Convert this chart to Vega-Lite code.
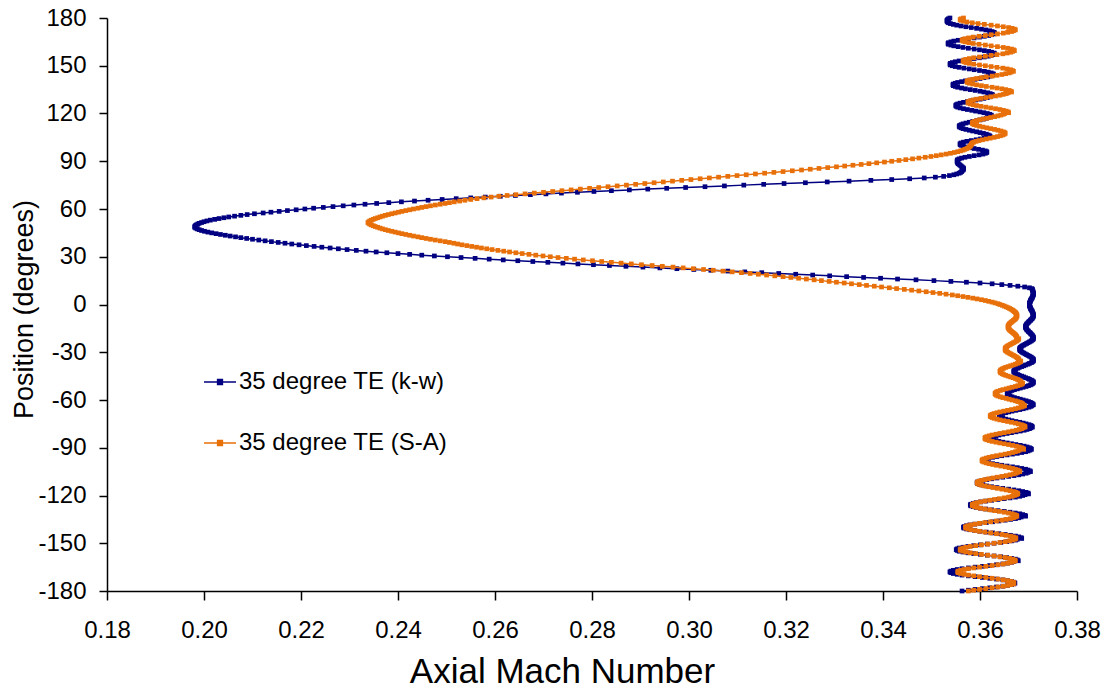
{
"$schema": "https://vega.github.io/schema/vega-lite/v6.json",
"width": 970,
"height": 573,
"autosize": {"type": "none"},
"padding": {"left": 107, "top": 18, "right": 33, "bottom": 97},
"background": "white",
"config": {
  "view": {"stroke": null},
  "font": "Liberation Sans",
  "axis": {"grid": false, "domainColor": "#000000", "domainWidth": 1.5, "tickColor": "#000000", "tickWidth": 1.5, "labelColor": "#000000", "titleColor": "#000000", "labelFont": "Liberation Sans", "titleFont": "Liberation Sans", "labelFontSize": 24, "titleFontWeight": "normal", "labelFlush": false, "labelOverlap": false}
},
"datasets": {
"kw": [
{"p":-180,"m":0.3563},{"p":-179.5,"m":0.3576},{"p":-179,"m":0.3590},{"p":-178.5,"m":0.3605},{"p":-178,"m":0.3620},{"p":-177.5,"m":0.3634},{"p":-177,"m":0.3647},{"p":-176.5,"m":0.3657},{"p":-176,"m":0.3665},{"p":-175.5,"m":0.3670},
{"p":-175,"m":0.3672},{"p":-174.5,"m":0.3670},{"p":-174,"m":0.3665},{"p":-173.5,"m":0.3657},{"p":-173,"m":0.3647},{"p":-172.5,"m":0.3634},{"p":-172,"m":0.3620},{"p":-171.5,"m":0.3605},{"p":-171,"m":0.3590},{"p":-170.5,"m":0.3576},{"p":-170,"m":0.3563},{"p":-169.5,"m":0.3553},{"p":-169,"m":0.3545},{"p":-168.5,"m":0.3540},{"p":-168,"m":0.3538},{"p":-167.5,"m":0.3540},{"p":-167,"m":0.3545},{"p":-166.5,"m":0.3553},{"p":-166,"m":0.3563},{"p":-165.5,"m":0.3576},{"p":-165,"m":0.3590},{"p":-164.5,"m":0.3605},{"p":-164,"m":0.3620},{"p":-163.5,"m":0.3634},{"p":-163,"m":0.3647},{"p":-162.5,"m":0.3657},{"p":-162,"m":0.3665},{"p":-161.5,"m":0.3670},
{"p":-161,"m":0.3679},{"p":-160.5,"m":0.3677},{"p":-160,"m":0.3673},{"p":-159.5,"m":0.3665},{"p":-159,"m":0.3655},{"p":-158.5,"m":0.3643},{"p":-158,"m":0.3629},{"p":-157.5,"m":0.3615},{"p":-157,"m":0.3601},{"p":-156.5,"m":0.3587},{"p":-156,"m":0.3575},{"p":-155.5,"m":0.3565},{"p":-155,"m":0.3557},{"p":-154.5,"m":0.3553},{"p":-154,"m":0.3551},{"p":-153.5,"m":0.3553},{"p":-153,"m":0.3557},{"p":-152.5,"m":0.3565},{"p":-152,"m":0.3575},{"p":-151.5,"m":0.3587},{"p":-151,"m":0.3601},{"p":-150.5,"m":0.3615},{"p":-150,"m":0.3629},{"p":-149.5,"m":0.3643},{"p":-149,"m":0.3655},{"p":-148.5,"m":0.3665},{"p":-148,"m":0.3673},{"p":-147.5,"m":0.3677},
{"p":-147,"m":0.3686},{"p":-146.5,"m":0.3685},{"p":-146,"m":0.3680},{"p":-145.5,"m":0.3673},{"p":-145,"m":0.3663},{"p":-144.5,"m":0.3652},{"p":-144,"m":0.3639},{"p":-143.5,"m":0.3626},{"p":-143,"m":0.3613},{"p":-142.5,"m":0.3600},{"p":-142,"m":0.3589},{"p":-141.5,"m":0.3579},{"p":-141,"m":0.3572},{"p":-140.5,"m":0.3567},{"p":-140,"m":0.3566},{"p":-139.5,"m":0.3567},{"p":-139,"m":0.3572},{"p":-138.5,"m":0.3579},{"p":-138,"m":0.3589},{"p":-137.5,"m":0.3600},{"p":-137,"m":0.3613},{"p":-136.5,"m":0.3626},{"p":-136,"m":0.3639},{"p":-135.5,"m":0.3652},{"p":-135,"m":0.3663},{"p":-134.5,"m":0.3673},{"p":-134,"m":0.3680},{"p":-133.5,"m":0.3685},
{"p":-133,"m":0.3694},{"p":-132.5,"m":0.3693},{"p":-132,"m":0.3688},{"p":-131.5,"m":0.3682},{"p":-131,"m":0.3673},{"p":-130.5,"m":0.3662},{"p":-130,"m":0.3650},{"p":-129.5,"m":0.3637},{"p":-129,"m":0.3624},{"p":-128.5,"m":0.3612},{"p":-128,"m":0.3601},{"p":-127.5,"m":0.3592},{"p":-127,"m":0.3586},{"p":-126.5,"m":0.3581},{"p":-126,"m":0.3580},{"p":-125.5,"m":0.3581},{"p":-125,"m":0.3586},{"p":-124.5,"m":0.3592},{"p":-124,"m":0.3601},{"p":-123.5,"m":0.3612},{"p":-123,"m":0.3624},{"p":-122.5,"m":0.3637},{"p":-122,"m":0.3650},{"p":-121.5,"m":0.3662},{"p":-121,"m":0.3673},{"p":-120.5,"m":0.3682},{"p":-120,"m":0.3688},{"p":-119.5,"m":0.3693},
{"p":-119,"m":0.3700},{"p":-118.5,"m":0.3699},{"p":-118,"m":0.3695},{"p":-117.5,"m":0.3688},{"p":-117,"m":0.3680},{"p":-116.5,"m":0.3670},{"p":-116,"m":0.3659},{"p":-115.5,"m":0.3647},{"p":-115,"m":0.3635},{"p":-114.5,"m":0.3624},{"p":-114,"m":0.3614},{"p":-113.5,"m":0.3606},{"p":-113,"m":0.3599},{"p":-112.5,"m":0.3595},{"p":-112,"m":0.3594},{"p":-111.5,"m":0.3595},{"p":-111,"m":0.3599},{"p":-110.5,"m":0.3606},{"p":-110,"m":0.3614},{"p":-109.5,"m":0.3624},{"p":-109,"m":0.3635},{"p":-108.5,"m":0.3647},{"p":-108,"m":0.3659},{"p":-107.5,"m":0.3670},{"p":-107,"m":0.3680},{"p":-106.5,"m":0.3688},{"p":-106,"m":0.3695},{"p":-105.5,"m":0.3699},
{"p":-105,"m":0.3704},{"p":-104.5,"m":0.3703},{"p":-104,"m":0.3699},{"p":-103.5,"m":0.3694},{"p":-103,"m":0.3686},{"p":-102.5,"m":0.3677},{"p":-102,"m":0.3667},{"p":-101.5,"m":0.3656},{"p":-101,"m":0.3645},{"p":-100.5,"m":0.3635},{"p":-100,"m":0.3626},{"p":-99.5,"m":0.3618},{"p":-99,"m":0.3613},{"p":-98.5,"m":0.3609},{"p":-98,"m":0.3608},{"p":-97.5,"m":0.3609},{"p":-97,"m":0.3613},{"p":-96.5,"m":0.3618},{"p":-96,"m":0.3626},{"p":-95.5,"m":0.3635},{"p":-95,"m":0.3645},{"p":-94.5,"m":0.3656},{"p":-94,"m":0.3667},{"p":-93.5,"m":0.3677},{"p":-93,"m":0.3686},{"p":-92.5,"m":0.3694},{"p":-92,"m":0.3699},{"p":-91.5,"m":0.3703},
{"p":-91,"m":0.3706},{"p":-90.5,"m":0.3705},{"p":-90,"m":0.3702},{"p":-89.5,"m":0.3697},{"p":-89,"m":0.3691},{"p":-88.5,"m":0.3683},{"p":-88,"m":0.3674},{"p":-87.5,"m":0.3665},{"p":-87,"m":0.3656},{"p":-86.5,"m":0.3647},{"p":-86,"m":0.3639},{"p":-85.5,"m":0.3633},{"p":-85,"m":0.3628},{"p":-84.5,"m":0.3625},{"p":-84,"m":0.3624},{"p":-83.5,"m":0.3625},{"p":-83,"m":0.3628},{"p":-82.5,"m":0.3633},{"p":-82,"m":0.3639},{"p":-81.5,"m":0.3647},{"p":-81,"m":0.3656},{"p":-80.5,"m":0.3665},{"p":-80,"m":0.3674},{"p":-79.5,"m":0.3683},{"p":-79,"m":0.3691},{"p":-78.5,"m":0.3697},{"p":-78,"m":0.3702},{"p":-77.5,"m":0.3705},
{"p":-77,"m":0.3708},{"p":-76.5,"m":0.3707},{"p":-76,"m":0.3705},{"p":-75.5,"m":0.3701},{"p":-75,"m":0.3695},{"p":-74.5,"m":0.3689},{"p":-74,"m":0.3682},{"p":-73.5,"m":0.3674},{"p":-73,"m":0.3666},{"p":-72.5,"m":0.3659},{"p":-72,"m":0.3653},{"p":-71.5,"m":0.3647},{"p":-71,"m":0.3643},{"p":-70.5,"m":0.3641},{"p":-70,"m":0.3640},{"p":-69.5,"m":0.3641},{"p":-69,"m":0.3643},{"p":-68.5,"m":0.3647},{"p":-68,"m":0.3653},{"p":-67.5,"m":0.3659},{"p":-67,"m":0.3666},{"p":-66.5,"m":0.3674},{"p":-66,"m":0.3682},{"p":-65.5,"m":0.3689},{"p":-65,"m":0.3695},{"p":-64.5,"m":0.3701},{"p":-64,"m":0.3705},{"p":-63.5,"m":0.3707},
{"p":-63,"m":0.3710},{"p":-62.5,"m":0.3709},{"p":-62,"m":0.3707},{"p":-61.5,"m":0.3704},{"p":-61,"m":0.3700},{"p":-60.5,"m":0.3695},{"p":-60,"m":0.3689},{"p":-59.5,"m":0.3683},{"p":-59,"m":0.3677},{"p":-58.5,"m":0.3671},{"p":-58,"m":0.3666},{"p":-57.5,"m":0.3662},{"p":-57,"m":0.3659},{"p":-56.5,"m":0.3657},{"p":-56,"m":0.3656},{"p":-55.5,"m":0.3657},{"p":-55,"m":0.3659},{"p":-54.5,"m":0.3662},{"p":-54,"m":0.3666},{"p":-53.5,"m":0.3671},{"p":-53,"m":0.3677},{"p":-52.5,"m":0.3683},{"p":-52,"m":0.3689},{"p":-51.5,"m":0.3695},{"p":-51,"m":0.3700},{"p":-50.5,"m":0.3704},{"p":-50,"m":0.3707},{"p":-49.5,"m":0.3709},
{"p":-49,"m":0.3710},{"p":-48.5,"m":0.3710},{"p":-48,"m":0.3708},{"p":-47.5,"m":0.3706},{"p":-47,"m":0.3702},{"p":-46.5,"m":0.3699},{"p":-46,"m":0.3694},{"p":-45.5,"m":0.3690},{"p":-45,"m":0.3686},{"p":-44.5,"m":0.3681},{"p":-44,"m":0.3678},{"p":-43.5,"m":0.3674},{"p":-43,"m":0.3672},{"p":-42.5,"m":0.3670},{"p":-42,"m":0.3670},{"p":-41.5,"m":0.3670},{"p":-41,"m":0.3672},{"p":-40.5,"m":0.3674},{"p":-40,"m":0.3678},{"p":-39.5,"m":0.3681},{"p":-39,"m":0.3686},{"p":-38.5,"m":0.3690},{"p":-38,"m":0.3694},{"p":-37.5,"m":0.3699},{"p":-37,"m":0.3702},{"p":-36.5,"m":0.3706},{"p":-36,"m":0.3708},{"p":-35.5,"m":0.3710},
{"p":-35,"m":0.3710},{"p":-34.5,"m":0.3710},{"p":-34,"m":0.3709},{"p":-33.5,"m":0.3707},{"p":-33,"m":0.3705},{"p":-32.5,"m":0.3702},{"p":-32,"m":0.3699},{"p":-31.5,"m":0.3696},{"p":-31,"m":0.3693},{"p":-30.5,"m":0.3690},{"p":-30,"m":0.3687},{"p":-29.5,"m":0.3685},{"p":-29,"m":0.3683},{"p":-28.5,"m":0.3682},{"p":-28,"m":0.3682},{"p":-27.5,"m":0.3682},{"p":-27,"m":0.3683},{"p":-26.5,"m":0.3685},{"p":-26,"m":0.3687},{"p":-25.5,"m":0.3690},{"p":-25,"m":0.3693},{"p":-24.5,"m":0.3696},{"p":-24,"m":0.3699},{"p":-23.5,"m":0.3702},{"p":-23,"m":0.3705},{"p":-22.5,"m":0.3707},{"p":-22,"m":0.3709},{"p":-21.5,"m":0.3710},
{"p":-21,"m":0.3710},{"p":-20.5,"m":0.3710},{"p":-20,"m":0.3709},{"p":-19.5,"m":0.3708},{"p":-19,"m":0.3707},{"p":-18.5,"m":0.3705},{"p":-18,"m":0.3704},{"p":-17.5,"m":0.3702},{"p":-17,"m":0.3700},{"p":-16.5,"m":0.3699},{"p":-16,"m":0.3697},{"p":-15.5,"m":0.3696},{"p":-15,"m":0.3695},{"p":-14.5,"m":0.3694},{"p":-14,"m":0.3694},{"p":-13.5,"m":0.3694},{"p":-13,"m":0.3695},{"p":-12.5,"m":0.3696},{"p":-12,"m":0.3697},{"p":-11.5,"m":0.3699},{"p":-11,"m":0.3700},{"p":-10.5,"m":0.3702},{"p":-10,"m":0.3704},{"p":-9.5,"m":0.3705},{"p":-9,"m":0.3707},{"p":-8.5,"m":0.3708},{"p":-8,"m":0.3709},{"p":-7.5,"m":0.3710},
{"p":-7,"m":0.3710},{"p":-6.5,"m":0.3710},{"p":-6,"m":0.3710},{"p":-5.5,"m":0.3709},{"p":-5,"m":0.3708},{"p":-4.5,"m":0.3708},{"p":-4,"m":0.3707},{"p":-3.5,"m":0.3706},{"p":-3,"m":0.3705},{"p":-2.5,"m":0.3704},{"p":-2,"m":0.3704},{"p":-1.5,"m":0.3703},{"p":-1,"m":0.3702},{"p":-0.5,"m":0.3702},{"p":0,"m":0.3702},{"p":0.5,"m":0.3702},{"p":1,"m":0.3702},{"p":1.5,"m":0.3703},{"p":2,"m":0.3704},{"p":2.5,"m":0.3704},{"p":3,"m":0.3705},{"p":3.5,"m":0.3706},{"p":4,"m":0.3707},{"p":4.5,"m":0.3708},{"p":5,"m":0.3708},{"p":5.5,"m":0.3709},{"p":6,"m":0.3710},{"p":6.5,"m":0.3710},
{"p":7,"m":0.3710},{"p":7.5,"m":0.3710},{"p":8,"m":0.3709},{"p":8.5,"m":0.3709},{"p":9,"m":0.3708},{"p":9.5,"m":0.3708},{"p":10,"m":0.3707},
{"p":10.5,"m":0.3702},{"p":11,"m":0.3692},{"p":11.5,"m":0.3678},{"p":12,"m":0.3662},{"p":12.5,"m":0.3645},{"p":13,"m":0.3625},{"p":13.5,"m":0.3600},{"p":14,"m":0.3572},{"p":14.5,"m":0.3540},{"p":15,"m":0.3505},{"p":15.5,"m":0.3468},{"p":16,"m":0.3430},{"p":16.5,"m":0.3395},{"p":17,"m":0.3360},{"p":17.5,"m":0.3325},{"p":18,"m":0.3290},{"p":18.5,"m":0.3255},{"p":19,"m":0.3220},{"p":19.5,"m":0.3185},{"p":20,"m":0.3150},{"p":20.5,"m":0.3115},{"p":21,"m":0.3080},{"p":21.5,"m":0.3045},{"p":22,"m":0.3010},{"p":22.5,"m":0.2975},{"p":23,"m":0.2940},{"p":23.5,"m":0.2905},{"p":24,"m":0.2870},{"p":24.5,"m":0.2836},{"p":25,"m":0.2803},
{"p":25.5,"m":0.2771},{"p":26,"m":0.2740},{"p":26.5,"m":0.2709},{"p":27,"m":0.2678},{"p":27.5,"m":0.2647},{"p":28,"m":0.2617},{"p":28.5,"m":0.2588},{"p":29,"m":0.2559},{"p":29.5,"m":0.2530},{"p":30,"m":0.2502},{"p":30.5,"m":0.2475},{"p":31,"m":0.2449},{"p":31.5,"m":0.2424},{"p":32,"m":0.2400},{"p":32.5,"m":0.2377},{"p":33,"m":0.2355},{"p":33.5,"m":0.2334},{"p":34,"m":0.2314},{"p":34.5,"m":0.2295},{"p":35,"m":0.2277},{"p":35.5,"m":0.2260},{"p":36,"m":0.2243},{"p":36.5,"m":0.2227},{"p":37,"m":0.2211},{"p":37.5,"m":0.2196},{"p":38,"m":0.2181},{"p":38.5,"m":0.2167},{"p":39,"m":0.2153},{"p":39.5,"m":0.2139},{"p":40,"m":0.2126},
{"p":40.5,"m":0.2113},{"p":41,"m":0.2100},{"p":41.5,"m":0.2088},{"p":42,"m":0.2076},{"p":42.5,"m":0.2065},{"p":43,"m":0.2054},{"p":43.5,"m":0.2044},{"p":44,"m":0.2034},{"p":44.5,"m":0.2025},{"p":45,"m":0.2016},{"p":45.5,"m":0.2008},{"p":46,"m":0.2001},{"p":46.5,"m":0.1995},{"p":47,"m":0.1990},{"p":47.5,"m":0.1986},{"p":48,"m":0.1983},{"p":48.5,"m":0.1981},{"p":49,"m":0.1981},{"p":49.5,"m":0.1982},{"p":50,"m":0.1984},{"p":50.5,"m":0.1987},{"p":51,"m":0.1990},{"p":51.5,"m":0.1995},{"p":52,"m":0.2000},{"p":52.5,"m":0.2006},{"p":53,"m":0.2013},{"p":53.5,"m":0.2022},{"p":54,"m":0.2031},{"p":54.5,"m":0.2041},{"p":55,"m":0.2051},
{"p":55.5,"m":0.2063},{"p":56,"m":0.2076},{"p":56.5,"m":0.2089},{"p":57,"m":0.2104},{"p":57.5,"m":0.2122},{"p":58,"m":0.2138},{"p":58.5,"m":0.2155},{"p":59,"m":0.2172},{"p":59.5,"m":0.2190},{"p":60,"m":0.2208},{"p":60.5,"m":0.2226},{"p":61,"m":0.2246},{"p":61.5,"m":0.2266},{"p":62,"m":0.2287},{"p":62.5,"m":0.2309},{"p":63,"m":0.2332},{"p":63.5,"m":0.2356},{"p":64,"m":0.2381},{"p":64.5,"m":0.2407},{"p":65,"m":0.2434},{"p":65.5,"m":0.2462},{"p":66,"m":0.2491},{"p":66.5,"m":0.2520},{"p":67,"m":0.2550},{"p":67.5,"m":0.2580},{"p":68,"m":0.2611},{"p":68.5,"m":0.2642},{"p":69,"m":0.2673},{"p":69.5,"m":0.2705},{"p":70,"m":0.2737},
{"p":70.5,"m":0.2770},{"p":71,"m":0.2804},{"p":71.5,"m":0.2840},{"p":72,"m":0.2877},{"p":72.5,"m":0.2915},{"p":73,"m":0.2954},{"p":73.5,"m":0.2993},{"p":74,"m":0.3033},{"p":74.5,"m":0.3073},{"p":75,"m":0.3113},{"p":75.5,"m":0.3154},{"p":76,"m":0.3196},{"p":76.5,"m":0.3240},{"p":77,"m":0.3285},{"p":77.5,"m":0.3330},{"p":78,"m":0.3375},{"p":78.5,"m":0.3418},{"p":79,"m":0.3455},{"p":79.5,"m":0.3485},{"p":80,"m":0.3508},{"p":80.5,"m":0.3525},{"p":81,"m":0.3537},{"p":81.5,"m":0.3546},{"p":82,"m":0.3552},{"p":82.5,"m":0.3557},{"p":83,"m":0.3560},{"p":83.5,"m":0.3562},{"p":84,"m":0.3563},
{"p":84.5,"m":0.3565},{"p":85,"m":0.3566},{"p":85.5,"m":0.3566},{"p":86,"m":0.3565},{"p":86.5,"m":0.3563},{"p":87,"m":0.3561},{"p":87.5,"m":0.3559},{"p":88,"m":0.3557},{"p":88.5,"m":0.3555},{"p":89,"m":0.3554},{"p":89.5,"m":0.3553},{"p":90,"m":0.3553},{"p":90.5,"m":0.3553},{"p":91,"m":0.3554},{"p":91.5,"m":0.3557},{"p":92,"m":0.3562},{"p":92.5,"m":0.3569},{"p":93,"m":0.3578},{"p":93.5,"m":0.3588},{"p":94,"m":0.3598},{"p":94.5,"m":0.3606},{"p":95,"m":0.3611},{"p":95.5,"m":0.3614},{"p":96,"m":0.3614},{"p":96.5,"m":0.3611},{"p":97,"m":0.3605},{"p":97.5,"m":0.3597},{"p":98,"m":0.3588},{"p":98.5,"m":0.3579},{"p":99,"m":0.3571},{"p":99.5,"m":0.3565},{"p":100,"m":0.3561},{"p":100.5,"m":0.3559},{"p":101,"m":0.3559},
{"p":101.5,"m":0.3561},{"p":102,"m":0.3566},{"p":102.5,"m":0.3573},{"p":103,"m":0.3582},{"p":103.5,"m":0.3592},{"p":104,"m":0.3601},{"p":104.5,"m":0.3609},{"p":105,"m":0.3616},
{"p":105.5,"m":0.3621},{"p":106,"m":0.3620},{"p":106.5,"m":0.3617},{"p":107,"m":0.3613},{"p":107.5,"m":0.3607},{"p":108,"m":0.3600},{"p":108.5,"m":0.3593},{"p":109,"m":0.3585},{"p":109.5,"m":0.3578},{"p":110,"m":0.3571},{"p":110.5,"m":0.3565},{"p":111,"m":0.3561},{"p":111.5,"m":0.3558},{"p":112,"m":0.3557},{"p":112.5,"m":0.3558},{"p":113,"m":0.3561},{"p":113.5,"m":0.3565},{"p":114,"m":0.3571},{"p":114.5,"m":0.3578},{"p":115,"m":0.3585},{"p":115.5,"m":0.3593},{"p":116,"m":0.3600},{"p":116.5,"m":0.3607},{"p":117,"m":0.3613},{"p":117.5,"m":0.3617},{"p":118,"m":0.3620},
{"p":118.5,"m":0.3624},{"p":119,"m":0.3623},{"p":119.5,"m":0.3620},{"p":120,"m":0.3615},{"p":120.5,"m":0.3608},{"p":121,"m":0.3600},{"p":121.5,"m":0.3591},{"p":122,"m":0.3583},{"p":122.5,"m":0.3574},{"p":123,"m":0.3566},{"p":123.5,"m":0.3559},{"p":124,"m":0.3554},{"p":124.5,"m":0.3551},{"p":125,"m":0.3550},{"p":125.5,"m":0.3551},{"p":126,"m":0.3554},{"p":126.5,"m":0.3559},{"p":127,"m":0.3566},{"p":127.5,"m":0.3574},{"p":128,"m":0.3583},{"p":128.5,"m":0.3591},{"p":129,"m":0.3600},{"p":129.5,"m":0.3608},{"p":130,"m":0.3615},{"p":130.5,"m":0.3620},{"p":131,"m":0.3623},
{"p":131.5,"m":0.3626},{"p":132,"m":0.3625},{"p":132.5,"m":0.3621},{"p":133,"m":0.3616},{"p":133.5,"m":0.3608},{"p":134,"m":0.3600},{"p":134.5,"m":0.3590},{"p":135,"m":0.3580},{"p":135.5,"m":0.3570},{"p":136,"m":0.3562},{"p":136.5,"m":0.3554},{"p":137,"m":0.3549},{"p":137.5,"m":0.3545},{"p":138,"m":0.3544},{"p":138.5,"m":0.3545},{"p":139,"m":0.3549},{"p":139.5,"m":0.3554},{"p":140,"m":0.3562},{"p":140.5,"m":0.3570},{"p":141,"m":0.3580},{"p":141.5,"m":0.3590},{"p":142,"m":0.3600},{"p":142.5,"m":0.3608},{"p":143,"m":0.3616},{"p":143.5,"m":0.3621},{"p":144,"m":0.3625},
{"p":144.5,"m":0.3628},{"p":145,"m":0.3627},{"p":145.5,"m":0.3623},{"p":146,"m":0.3617},{"p":146.5,"m":0.3609},{"p":147,"m":0.3599},{"p":147.5,"m":0.3588},{"p":148,"m":0.3578},{"p":148.5,"m":0.3567},{"p":149,"m":0.3557},{"p":149.5,"m":0.3549},{"p":150,"m":0.3543},{"p":150.5,"m":0.3539},{"p":151,"m":0.3538},{"p":151.5,"m":0.3539},{"p":152,"m":0.3543},{"p":152.5,"m":0.3549},{"p":153,"m":0.3557},{"p":153.5,"m":0.3567},{"p":154,"m":0.3578},{"p":154.5,"m":0.3588},{"p":155,"m":0.3599},{"p":155.5,"m":0.3609},{"p":156,"m":0.3617},{"p":156.5,"m":0.3623},{"p":157,"m":0.3627},
{"p":157.5,"m":0.3630},{"p":158,"m":0.3629},{"p":158.5,"m":0.3624},{"p":159,"m":0.3618},{"p":159.5,"m":0.3609},{"p":160,"m":0.3599},{"p":160.5,"m":0.3588},{"p":161,"m":0.3576},{"p":161.5,"m":0.3565},{"p":162,"m":0.3555},{"p":162.5,"m":0.3546},{"p":163,"m":0.3540},{"p":163.5,"m":0.3535},{"p":164,"m":0.3534},{"p":164.5,"m":0.3535},{"p":165,"m":0.3540},{"p":165.5,"m":0.3546},{"p":166,"m":0.3555},{"p":166.5,"m":0.3565},{"p":167,"m":0.3576},{"p":167.5,"m":0.3588},{"p":168,"m":0.3599},{"p":168.5,"m":0.3609},{"p":169,"m":0.3618},{"p":169.5,"m":0.3624},{"p":170,"m":0.3629},
{"p":170.5,"m":0.3630},{"p":171,"m":0.3629},{"p":171.5,"m":0.3625},{"p":172,"m":0.3620},{"p":172.5,"m":0.3612},{"p":173,"m":0.3603},{"p":173.5,"m":0.3593},{"p":174,"m":0.3582},{"p":174.5,"m":0.3571},{"p":175,"m":0.3561},{"p":175.5,"m":0.3552},{"p":176,"m":0.3545},{"p":176.5,"m":0.3539},{"p":177,"m":0.3535},{"p":177.5,"m":0.3533},{"p":178,"m":0.3532},{"p":178.5,"m":0.3532},{"p":179,"m":0.3533},{"p":179.5,"m":0.3535},{"p":180,"m":0.3538}
],
"sa": [
{"p":-180,"m":0.3576},{"p":-179.5,"m":0.3587},{"p":-179,"m":0.3599},{"p":-178.5,"m":0.3612},{"p":-178,"m":0.3625},{"p":-177.5,"m":0.3637},{"p":-177,"m":0.3648},{"p":-176.5,"m":0.3657},{"p":-176,"m":0.3664},{"p":-175.5,"m":0.3669},
{"p":-175,"m":0.3670},{"p":-174.5,"m":0.3669},{"p":-174,"m":0.3664},{"p":-173.5,"m":0.3657},{"p":-173,"m":0.3648},{"p":-172.5,"m":0.3637},{"p":-172,"m":0.3625},{"p":-171.5,"m":0.3612},{"p":-171,"m":0.3599},{"p":-170.5,"m":0.3587},{"p":-170,"m":0.3576},{"p":-169.5,"m":0.3567},{"p":-169,"m":0.3560},{"p":-168.5,"m":0.3555},{"p":-168,"m":0.3554},{"p":-167.5,"m":0.3555},{"p":-167,"m":0.3560},{"p":-166.5,"m":0.3567},{"p":-166,"m":0.3576},{"p":-165.5,"m":0.3587},{"p":-165,"m":0.3599},{"p":-164.5,"m":0.3612},{"p":-164,"m":0.3625},{"p":-163.5,"m":0.3637},{"p":-163,"m":0.3648},{"p":-162.5,"m":0.3657},{"p":-162,"m":0.3664},{"p":-161.5,"m":0.3669},
{"p":-161,"m":0.3673},{"p":-160.5,"m":0.3672},{"p":-160,"m":0.3667},{"p":-159.5,"m":0.3661},{"p":-159,"m":0.3652},{"p":-158.5,"m":0.3641},{"p":-158,"m":0.3629},{"p":-157.5,"m":0.3616},{"p":-157,"m":0.3603},{"p":-156.5,"m":0.3591},{"p":-156,"m":0.3580},{"p":-155.5,"m":0.3571},{"p":-155,"m":0.3565},{"p":-154.5,"m":0.3560},{"p":-154,"m":0.3559},{"p":-153.5,"m":0.3560},{"p":-153,"m":0.3565},{"p":-152.5,"m":0.3571},{"p":-152,"m":0.3580},{"p":-151.5,"m":0.3591},{"p":-151,"m":0.3603},{"p":-150.5,"m":0.3616},{"p":-150,"m":0.3629},{"p":-149.5,"m":0.3641},{"p":-149,"m":0.3652},{"p":-148.5,"m":0.3661},{"p":-148,"m":0.3667},{"p":-147.5,"m":0.3672},
{"p":-147,"m":0.3674},{"p":-146.5,"m":0.3673},{"p":-146,"m":0.3669},{"p":-145.5,"m":0.3663},{"p":-145,"m":0.3654},{"p":-144.5,"m":0.3645},{"p":-144,"m":0.3634},{"p":-143.5,"m":0.3622},{"p":-143,"m":0.3610},{"p":-142.5,"m":0.3599},{"p":-142,"m":0.3590},{"p":-141.5,"m":0.3581},{"p":-141,"m":0.3575},{"p":-140.5,"m":0.3571},{"p":-140,"m":0.3570},{"p":-139.5,"m":0.3571},{"p":-139,"m":0.3575},{"p":-138.5,"m":0.3581},{"p":-138,"m":0.3590},{"p":-137.5,"m":0.3599},{"p":-137,"m":0.3610},{"p":-136.5,"m":0.3622},{"p":-136,"m":0.3634},{"p":-135.5,"m":0.3645},{"p":-135,"m":0.3654},{"p":-134.5,"m":0.3663},{"p":-134,"m":0.3669},{"p":-133.5,"m":0.3673},
{"p":-133,"m":0.3676},{"p":-132.5,"m":0.3675},{"p":-132,"m":0.3671},{"p":-131.5,"m":0.3666},{"p":-131,"m":0.3659},{"p":-130.5,"m":0.3650},{"p":-130,"m":0.3640},{"p":-129.5,"m":0.3630},{"p":-129,"m":0.3620},{"p":-128.5,"m":0.3610},{"p":-128,"m":0.3601},{"p":-127.5,"m":0.3594},{"p":-127,"m":0.3589},{"p":-126.5,"m":0.3585},{"p":-126,"m":0.3584},{"p":-125.5,"m":0.3585},{"p":-125,"m":0.3589},{"p":-124.5,"m":0.3594},{"p":-124,"m":0.3601},{"p":-123.5,"m":0.3610},{"p":-123,"m":0.3620},{"p":-122.5,"m":0.3630},{"p":-122,"m":0.3640},{"p":-121.5,"m":0.3650},{"p":-121,"m":0.3659},{"p":-120.5,"m":0.3666},{"p":-120,"m":0.3671},{"p":-119.5,"m":0.3675},
{"p":-119,"m":0.3678},{"p":-118.5,"m":0.3677},{"p":-118,"m":0.3674},{"p":-117.5,"m":0.3669},{"p":-117,"m":0.3662},{"p":-116.5,"m":0.3654},{"p":-116,"m":0.3645},{"p":-115.5,"m":0.3636},{"p":-115,"m":0.3627},{"p":-114.5,"m":0.3618},{"p":-114,"m":0.3610},{"p":-113.5,"m":0.3603},{"p":-113,"m":0.3598},{"p":-112.5,"m":0.3595},{"p":-112,"m":0.3594},{"p":-111.5,"m":0.3595},{"p":-111,"m":0.3598},{"p":-110.5,"m":0.3603},{"p":-110,"m":0.3610},{"p":-109.5,"m":0.3618},{"p":-109,"m":0.3627},{"p":-108.5,"m":0.3636},{"p":-108,"m":0.3645},{"p":-107.5,"m":0.3654},{"p":-107,"m":0.3662},{"p":-106.5,"m":0.3669},{"p":-106,"m":0.3674},{"p":-105.5,"m":0.3677},
{"p":-105,"m":0.3682},{"p":-104.5,"m":0.3681},{"p":-104,"m":0.3678},{"p":-103.5,"m":0.3673},{"p":-103,"m":0.3667},{"p":-102.5,"m":0.3660},{"p":-102,"m":0.3652},{"p":-101.5,"m":0.3643},{"p":-101,"m":0.3634},{"p":-100.5,"m":0.3626},{"p":-100,"m":0.3619},{"p":-99.5,"m":0.3613},{"p":-99,"m":0.3608},{"p":-98.5,"m":0.3605},{"p":-98,"m":0.3604},{"p":-97.5,"m":0.3605},{"p":-97,"m":0.3608},{"p":-96.5,"m":0.3613},{"p":-96,"m":0.3619},{"p":-95.5,"m":0.3626},{"p":-95,"m":0.3634},{"p":-94.5,"m":0.3643},{"p":-94,"m":0.3652},{"p":-93.5,"m":0.3660},{"p":-93,"m":0.3667},{"p":-92.5,"m":0.3673},{"p":-92,"m":0.3678},{"p":-91.5,"m":0.3681},
{"p":-91,"m":0.3690},{"p":-90.5,"m":0.3689},{"p":-90,"m":0.3686},{"p":-89.5,"m":0.3681},{"p":-89,"m":0.3675},{"p":-88.5,"m":0.3667},{"p":-88,"m":0.3659},{"p":-87.5,"m":0.3650},{"p":-87,"m":0.3641},{"p":-86.5,"m":0.3633},{"p":-86,"m":0.3625},{"p":-85.5,"m":0.3619},{"p":-85,"m":0.3614},{"p":-84.5,"m":0.3611},{"p":-84,"m":0.3610},{"p":-83.5,"m":0.3611},{"p":-83,"m":0.3614},{"p":-82.5,"m":0.3619},{"p":-82,"m":0.3625},{"p":-81.5,"m":0.3633},{"p":-81,"m":0.3641},{"p":-80.5,"m":0.3650},{"p":-80,"m":0.3659},{"p":-79.5,"m":0.3667},{"p":-79,"m":0.3675},{"p":-78.5,"m":0.3681},{"p":-78,"m":0.3686},{"p":-77.5,"m":0.3689},
{"p":-77,"m":0.3693},{"p":-76.5,"m":0.3692},{"p":-76,"m":0.3689},{"p":-75.5,"m":0.3685},{"p":-75,"m":0.3679},{"p":-74.5,"m":0.3673},{"p":-74,"m":0.3665},{"p":-73.5,"m":0.3657},{"p":-73,"m":0.3649},{"p":-72.5,"m":0.3641},{"p":-72,"m":0.3635},{"p":-71.5,"m":0.3629},{"p":-71,"m":0.3625},{"p":-70.5,"m":0.3622},{"p":-70,"m":0.3621},{"p":-69.5,"m":0.3622},{"p":-69,"m":0.3625},{"p":-68.5,"m":0.3629},{"p":-68,"m":0.3635},{"p":-67.5,"m":0.3641},{"p":-67,"m":0.3649},{"p":-66.5,"m":0.3657},{"p":-66,"m":0.3665},{"p":-65.5,"m":0.3673},{"p":-65,"m":0.3679},{"p":-64.5,"m":0.3685},{"p":-64,"m":0.3689},{"p":-63.5,"m":0.3692},
{"p":-63,"m":0.3689},{"p":-62.5,"m":0.3688},{"p":-62,"m":0.3686},{"p":-61.5,"m":0.3683},{"p":-61,"m":0.3678},{"p":-60.5,"m":0.3673},{"p":-60,"m":0.3666},{"p":-59.5,"m":0.3660},{"p":-59,"m":0.3654},{"p":-58.5,"m":0.3647},{"p":-58,"m":0.3642},{"p":-57.5,"m":0.3637},{"p":-57,"m":0.3634},{"p":-56.5,"m":0.3632},{"p":-56,"m":0.3631},{"p":-55.5,"m":0.3632},{"p":-55,"m":0.3634},{"p":-54.5,"m":0.3637},{"p":-54,"m":0.3642},{"p":-53.5,"m":0.3647},{"p":-53,"m":0.3654},{"p":-52.5,"m":0.3660},{"p":-52,"m":0.3666},{"p":-51.5,"m":0.3673},{"p":-51,"m":0.3678},{"p":-50.5,"m":0.3683},{"p":-50,"m":0.3686},{"p":-49.5,"m":0.3688},
{"p":-49,"m":0.3685},{"p":-48.5,"m":0.3684},{"p":-48,"m":0.3683},{"p":-47.5,"m":0.3680},{"p":-47,"m":0.3677},{"p":-46.5,"m":0.3673},{"p":-46,"m":0.3668},{"p":-45.5,"m":0.3663},{"p":-45,"m":0.3658},{"p":-44.5,"m":0.3653},{"p":-44,"m":0.3649},{"p":-43.5,"m":0.3646},{"p":-43,"m":0.3643},{"p":-42.5,"m":0.3642},{"p":-42,"m":0.3641},{"p":-41.5,"m":0.3642},{"p":-41,"m":0.3643},{"p":-40.5,"m":0.3646},{"p":-40,"m":0.3649},{"p":-39.5,"m":0.3653},{"p":-39,"m":0.3658},{"p":-38.5,"m":0.3663},{"p":-38,"m":0.3668},{"p":-37.5,"m":0.3673},{"p":-37,"m":0.3677},{"p":-36.5,"m":0.3680},{"p":-36,"m":0.3683},{"p":-35.5,"m":0.3684},
{"p":-35,"m":0.3680},{"p":-34.5,"m":0.3680},{"p":-34,"m":0.3679},{"p":-33.5,"m":0.3677},{"p":-33,"m":0.3675},{"p":-32.5,"m":0.3672},{"p":-32,"m":0.3669},{"p":-31.5,"m":0.3666},{"p":-31,"m":0.3663},{"p":-30.5,"m":0.3660},{"p":-30,"m":0.3657},{"p":-29.5,"m":0.3655},{"p":-29,"m":0.3653},{"p":-28.5,"m":0.3652},{"p":-28,"m":0.3652},{"p":-27.5,"m":0.3652},{"p":-27,"m":0.3653},{"p":-26.5,"m":0.3655},{"p":-26,"m":0.3657},{"p":-25.5,"m":0.3660},{"p":-25,"m":0.3663},{"p":-24.5,"m":0.3666},{"p":-24,"m":0.3669},{"p":-23.5,"m":0.3672},{"p":-23,"m":0.3675},{"p":-22.5,"m":0.3677},{"p":-22,"m":0.3679},{"p":-21.5,"m":0.3680},
{"p":-21,"m":0.3676},{"p":-20.5,"m":0.3676},{"p":-20,"m":0.3675},{"p":-19.5,"m":0.3674},{"p":-19,"m":0.3673},{"p":-18.5,"m":0.3671},{"p":-18,"m":0.3669},{"p":-17.5,"m":0.3667},{"p":-17,"m":0.3665},{"p":-16.5,"m":0.3663},{"p":-16,"m":0.3661},{"p":-15.5,"m":0.3660},{"p":-15,"m":0.3659},{"p":-14.5,"m":0.3658},{"p":-14,"m":0.3658},{"p":-13.5,"m":0.3658},{"p":-13,"m":0.3659},{"p":-12.5,"m":0.3660},{"p":-12,"m":0.3661},{"p":-11.5,"m":0.3663},{"p":-11,"m":0.3665},{"p":-10.5,"m":0.3667},{"p":-10,"m":0.3669},{"p":-9.5,"m":0.3671},{"p":-9,"m":0.3673},{"p":-8.5,"m":0.3674},{"p":-8,"m":0.3675},{"p":-7.5,"m":0.3676},
{"p":-7,"m":0.3676},{"p":-6.5,"m":0.3676},{"p":-6,"m":0.3675},{"p":-5.5,"m":0.3674},{"p":-5,"m":0.3673},{"p":-4.5,"m":0.3671},{"p":-4,"m":0.3669},{"p":-3.5,"m":0.3667},{"p":-3,"m":0.3664},{"p":-2.5,"m":0.3661},{"p":-2,"m":0.3658},{"p":-1.5,"m":0.3654},{"p":-1,"m":0.3650},{"p":-0.5,"m":0.3646},{"p":0,"m":0.3641},
{"p":0.5,"m":0.3637},{"p":1,"m":0.3631},{"p":1.5,"m":0.3625},{"p":2,"m":0.3618},{"p":2.5,"m":0.3611},{"p":3,"m":0.3603},{"p":3.5,"m":0.3594},{"p":4,"m":0.3585},{"p":4.5,"m":0.3575},{"p":5,"m":0.3565},{"p":5.5,"m":0.3554},{"p":6,"m":0.3543},{"p":6.5,"m":0.3530},{"p":7,"m":0.3517},{"p":7.5,"m":0.3503},{"p":8,"m":0.3489},{"p":8.5,"m":0.3474},{"p":9,"m":0.3459},{"p":9.5,"m":0.3444},{"p":10,"m":0.3428},
{"p":10.5,"m":0.3413},{"p":11,"m":0.3397},{"p":11.5,"m":0.3382},{"p":12,"m":0.3366},{"p":12.5,"m":0.3351},{"p":13,"m":0.3335},{"p":13.5,"m":0.3320},{"p":14,"m":0.3304},{"p":14.5,"m":0.3289},{"p":15,"m":0.3273},{"p":15.5,"m":0.3258},{"p":16,"m":0.3242},{"p":16.5,"m":0.3226},{"p":17,"m":0.3210},{"p":17.5,"m":0.3194},{"p":18,"m":0.3177},{"p":18.5,"m":0.3160},{"p":19,"m":0.3143},{"p":19.5,"m":0.3126},{"p":20,"m":0.3108},
{"p":20.5,"m":0.3089},{"p":21,"m":0.3070},{"p":21.5,"m":0.3050},{"p":22,"m":0.3030},{"p":22.5,"m":0.3009},{"p":23,"m":0.2988},{"p":23.5,"m":0.2967},{"p":24,"m":0.2945},{"p":24.5,"m":0.2924},{"p":25,"m":0.2902},{"p":25.5,"m":0.2881},{"p":26,"m":0.2860},{"p":26.5,"m":0.2840},{"p":27,"m":0.2820},{"p":27.5,"m":0.2801},{"p":28,"m":0.2782},{"p":28.5,"m":0.2764},{"p":29,"m":0.2747},{"p":29.5,"m":0.2730},{"p":30,"m":0.2714},
{"p":30.5,"m":0.2699},{"p":31,"m":0.2684},{"p":31.5,"m":0.2670},{"p":32,"m":0.2656},{"p":32.5,"m":0.2643},{"p":33,"m":0.2630},{"p":33.5,"m":0.2618},{"p":34,"m":0.2606},{"p":34.5,"m":0.2594},{"p":35,"m":0.2583},{"p":35.5,"m":0.2572},{"p":36,"m":0.2562},{"p":36.5,"m":0.2552},{"p":37,"m":0.2542},{"p":37.5,"m":0.2532},{"p":38,"m":0.2523},{"p":38.5,"m":0.2515},{"p":39,"m":0.2506},{"p":39.5,"m":0.2497},{"p":40,"m":0.2487},
{"p":40.5,"m":0.2477},{"p":41,"m":0.2467},{"p":41.5,"m":0.2458},{"p":42,"m":0.2449},{"p":42.5,"m":0.2441},{"p":43,"m":0.2432},{"p":43.5,"m":0.2424},{"p":44,"m":0.2416},{"p":44.5,"m":0.2408},{"p":45,"m":0.2401},{"p":45.5,"m":0.2394},{"p":46,"m":0.2387},{"p":46.5,"m":0.2380},{"p":47,"m":0.2374},{"p":47.5,"m":0.2368},{"p":48,"m":0.2363},{"p":48.5,"m":0.2358},{"p":49,"m":0.2353},{"p":49.5,"m":0.2349},{"p":50,"m":0.2345},
{"p":50.5,"m":0.2342},{"p":51,"m":0.2340},{"p":51.5,"m":0.2338},{"p":52,"m":0.2340},{"p":52.5,"m":0.2342},{"p":53,"m":0.2345},{"p":53.5,"m":0.2349},{"p":54,"m":0.2353},{"p":54.5,"m":0.2358},{"p":55,"m":0.2363},{"p":55.5,"m":0.2368},{"p":56,"m":0.2374},{"p":56.5,"m":0.2380},{"p":57,"m":0.2387},{"p":57.5,"m":0.2394},{"p":58,"m":0.2401},{"p":58.5,"m":0.2408},{"p":59,"m":0.2416},{"p":59.5,"m":0.2424},{"p":60,"m":0.2432},
{"p":60.5,"m":0.2441},{"p":61,"m":0.2449},{"p":61.5,"m":0.2458},{"p":62,"m":0.2467},{"p":62.5,"m":0.2477},{"p":63,"m":0.2487},{"p":63.5,"m":0.2497},{"p":64,"m":0.2506},{"p":64.5,"m":0.2516},{"p":65,"m":0.2527},{"p":65.5,"m":0.2538},{"p":66,"m":0.2550},{"p":66.5,"m":0.2563},{"p":67,"m":0.2577},{"p":67.5,"m":0.2592},{"p":68,"m":0.2608},{"p":68.5,"m":0.2625},{"p":69,"m":0.2643},{"p":69.5,"m":0.2662},{"p":70,"m":0.2681},
{"p":70.5,"m":0.2700},{"p":71,"m":0.2719},{"p":71.5,"m":0.2738},{"p":72,"m":0.2757},{"p":72.5,"m":0.2776},{"p":73,"m":0.2795},{"p":73.5,"m":0.2814},{"p":74,"m":0.2833},{"p":74.5,"m":0.2852},{"p":75,"m":0.2871},{"p":75.5,"m":0.2890},{"p":76,"m":0.2909},{"p":76.5,"m":0.2928},{"p":77,"m":0.2947},{"p":77.5,"m":0.2966},{"p":78,"m":0.2985},{"p":78.5,"m":0.3004},{"p":79,"m":0.3023},{"p":79.5,"m":0.3042},{"p":80,"m":0.3061},
{"p":80.5,"m":0.3080},{"p":81,"m":0.3099},{"p":81.5,"m":0.3118},{"p":82,"m":0.3137},{"p":82.5,"m":0.3156},{"p":83,"m":0.3175},{"p":83.5,"m":0.3194},{"p":84,"m":0.3213},{"p":84.5,"m":0.3232},{"p":85,"m":0.3250},{"p":85.5,"m":0.3268},{"p":86,"m":0.3286},{"p":86.5,"m":0.3304},{"p":87,"m":0.3321},{"p":87.5,"m":0.3338},{"p":88,"m":0.3355},{"p":88.5,"m":0.3371},{"p":89,"m":0.3387},{"p":89.5,"m":0.3403},{"p":90,"m":0.3418},
{"p":90.5,"m":0.3433},{"p":91,"m":0.3447},{"p":91.5,"m":0.3461},{"p":92,"m":0.3474},{"p":92.5,"m":0.3487},{"p":93,"m":0.3499},{"p":93.5,"m":0.3510},{"p":94,"m":0.3520},{"p":94.5,"m":0.3530},{"p":95,"m":0.3539},{"p":95.5,"m":0.3547},{"p":96,"m":0.3554},{"p":96.5,"m":0.3560},{"p":97,"m":0.3565},{"p":97.5,"m":0.3569},{"p":98,"m":0.3573},{"p":98.5,"m":0.3576},{"p":99,"m":0.3578},{"p":99.5,"m":0.3580},{"p":100,"m":0.3581},
{"p":100.5,"m":0.3582},{"p":101,"m":0.3583},{"p":101.5,"m":0.3584},{"p":102,"m":0.3587},{"p":102.5,"m":0.3592},{"p":103,"m":0.3598},{"p":103.5,"m":0.3605},{"p":104,"m":0.3613},{"p":104.5,"m":0.3621},{"p":105,"m":0.3629},{"p":105.5,"m":0.3636},{"p":106,"m":0.3642},{"p":106.5,"m":0.3647},{"p":107,"m":0.3650},
{"p":107.5,"m":0.3652},{"p":108,"m":0.3651},{"p":108.5,"m":0.3648},{"p":109,"m":0.3643},{"p":109.5,"m":0.3637},{"p":110,"m":0.3630},{"p":110.5,"m":0.3622},{"p":111,"m":0.3614},{"p":111.5,"m":0.3606},{"p":112,"m":0.3599},{"p":112.5,"m":0.3593},{"p":113,"m":0.3588},{"p":113.5,"m":0.3585},{"p":114,"m":0.3584},{"p":114.5,"m":0.3585},{"p":115,"m":0.3588},{"p":115.5,"m":0.3593},{"p":116,"m":0.3599},{"p":116.5,"m":0.3606},{"p":117,"m":0.3614},{"p":117.5,"m":0.3622},{"p":118,"m":0.3630},{"p":118.5,"m":0.3637},{"p":119,"m":0.3643},{"p":119.5,"m":0.3648},{"p":120,"m":0.3651},
{"p":120.5,"m":0.3659},{"p":121,"m":0.3658},{"p":121.5,"m":0.3654},{"p":122,"m":0.3648},{"p":122.5,"m":0.3641},{"p":123,"m":0.3632},{"p":123.5,"m":0.3622},{"p":124,"m":0.3612},{"p":124.5,"m":0.3602},{"p":125,"m":0.3593},{"p":125.5,"m":0.3586},{"p":126,"m":0.3580},{"p":126.5,"m":0.3576},{"p":127,"m":0.3575},{"p":127.5,"m":0.3576},{"p":128,"m":0.3580},{"p":128.5,"m":0.3586},{"p":129,"m":0.3593},{"p":129.5,"m":0.3602},{"p":130,"m":0.3612},{"p":130.5,"m":0.3622},{"p":131,"m":0.3632},{"p":131.5,"m":0.3641},{"p":132,"m":0.3648},{"p":132.5,"m":0.3654},{"p":133,"m":0.3658},
{"p":133.5,"m":0.3665},{"p":134,"m":0.3664},{"p":134.5,"m":0.3660},{"p":135,"m":0.3653},{"p":135.5,"m":0.3645},{"p":136,"m":0.3635},{"p":136.5,"m":0.3625},{"p":137,"m":0.3613},{"p":137.5,"m":0.3603},{"p":138,"m":0.3593},{"p":138.5,"m":0.3585},{"p":139,"m":0.3578},{"p":139.5,"m":0.3574},{"p":140,"m":0.3573},{"p":140.5,"m":0.3574},{"p":141,"m":0.3578},{"p":141.5,"m":0.3585},{"p":142,"m":0.3593},{"p":142.5,"m":0.3603},{"p":143,"m":0.3613},{"p":143.5,"m":0.3625},{"p":144,"m":0.3635},{"p":144.5,"m":0.3645},{"p":145,"m":0.3653},{"p":145.5,"m":0.3660},{"p":146,"m":0.3664},
{"p":146.5,"m":0.3669},{"p":147,"m":0.3667},{"p":147.5,"m":0.3663},{"p":148,"m":0.3656},{"p":148.5,"m":0.3647},{"p":149,"m":0.3635},{"p":149.5,"m":0.3623},{"p":150,"m":0.3611},{"p":150.5,"m":0.3599},{"p":151,"m":0.3587},{"p":151.5,"m":0.3578},{"p":152,"m":0.3571},{"p":152.5,"m":0.3567},{"p":153,"m":0.3565},{"p":153.5,"m":0.3567},{"p":154,"m":0.3571},{"p":154.5,"m":0.3578},{"p":155,"m":0.3587},{"p":155.5,"m":0.3599},{"p":156,"m":0.3611},{"p":156.5,"m":0.3623},{"p":157,"m":0.3635},{"p":157.5,"m":0.3647},{"p":158,"m":0.3656},{"p":158.5,"m":0.3663},{"p":159,"m":0.3667},
{"p":159.5,"m":0.3671},{"p":160,"m":0.3669},{"p":160.5,"m":0.3665},{"p":161,"m":0.3657},{"p":161.5,"m":0.3648},{"p":162,"m":0.3636},{"p":162.5,"m":0.3623},{"p":163,"m":0.3611},{"p":163.5,"m":0.3598},{"p":164,"m":0.3586},{"p":164.5,"m":0.3577},{"p":165,"m":0.3569},{"p":165.5,"m":0.3565},{"p":166,"m":0.3563},{"p":166.5,"m":0.3565},{"p":167,"m":0.3569},{"p":167.5,"m":0.3577},{"p":168,"m":0.3586},{"p":168.5,"m":0.3598},{"p":169,"m":0.3611},{"p":169.5,"m":0.3623},{"p":170,"m":0.3636},{"p":170.5,"m":0.3648},{"p":171,"m":0.3657},{"p":171.5,"m":0.3665},{"p":172,"m":0.3669},
{"p":172.5,"m":0.3673},{"p":173,"m":0.3671},{"p":173.5,"m":0.3666},{"p":174,"m":0.3659},{"p":174.5,"m":0.3648},{"p":175,"m":0.3636},{"p":175.5,"m":0.3623},{"p":176,"m":0.3609},{"p":176.5,"m":0.3596},{"p":177,"m":0.3584},{"p":177.5,"m":0.3573},{"p":178,"m":0.3566},{"p":178.5,"m":0.3561},{"p":179,"m":0.3559},{"p":179.5,"m":0.3561},{"p":180,"m":0.3566}
]
},
"encoding": {
  "x": {"field": "m", "type": "quantitative", "scale": {"domain": [0.18, 0.38], "nice": false, "zero": false},
        "axis": {"values": [0.18, 0.2, 0.22, 0.24, 0.26, 0.28, 0.3, 0.32, 0.34, 0.36, 0.38], "format": ".2f", "tickSize": 9, "labelPadding": 18, "title": "Axial Mach Number", "titleFontSize": 35, "titleX": 455, "titleY": 91, "titleBaseline": "alphabetic"}},
  "y": {"field": "p", "type": "quantitative", "scale": {"domain": [-180, 180], "nice": false, "zero": false},
        "axis": {"values": [-180, -150, -120, -90, -60, -30, 0, 30, 60, 90, 120, 150, 180], "labelExpr": "'' + datum.value", "tickSize": 8, "labelPadding": 13, "title": "Position (degrees)", "titleFontSize": 27, "titleX": -75, "titleY": 291, "titleBaseline": "alphabetic"}}
},
"layer": [
  {"data": {"name": "kw"}, "mark": {"type": "line", "strokeWidth": 1.5},
   "encoding": {"order": {"field": "p", "type": "quantitative"},
     "color": {"datum": "35 degree TE (k-w)", "type": "nominal",
       "scale": {"domain": ["35 degree TE (k-w)", "35 degree TE (S-A)"], "range": ["#000080", "#E8700A"]},
       "legend": {"title": null, "orient": "none", "legendX": 96, "legendY": 347, "padding": 0,
         "symbolType": "M-1,0H1M-0.15,-0.15H0.15V0.15H-0.15Z", "symbolSize": 1024, "symbolStrokeWidth": 1.5,
         "labelFont": "Liberation Sans", "labelFontSize": 24, "labelColor": "#000000", "labelOffset": 2, "labelLimit": 0, "rowPadding": 32,
         "encode": {"symbols": {"update": {"fill": {"scale": "color", "field": "value"}, "stroke": {"scale": "color", "field": "value"}, "opacity": {"value": 1}}}}}}}},
  {"data": {"name": "kw"}, "mark": {"type": "square", "size": 22, "opacity": 1, "filled": true},
   "encoding": {"color": {"datum": "35 degree TE (k-w)", "type": "nominal"}}},
  {"data": {"name": "sa"}, "mark": {"type": "line", "strokeWidth": 1.5},
   "encoding": {"order": {"field": "p", "type": "quantitative"}, "color": {"datum": "35 degree TE (S-A)", "type": "nominal"}}},
  {"data": {"name": "sa"}, "mark": {"type": "square", "size": 22, "opacity": 1, "filled": true},
   "encoding": {"color": {"datum": "35 degree TE (S-A)", "type": "nominal"}}}
]
}
